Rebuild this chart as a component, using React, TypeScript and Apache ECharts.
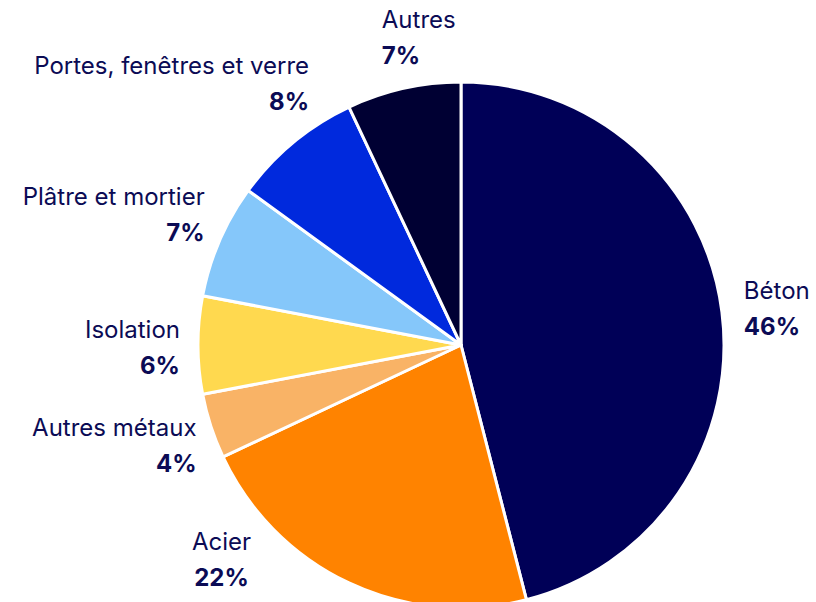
import React, { useEffect, useRef } from "react";
import * as echarts from "echarts";

const categories = [
  "Béton",
  "Acier",
  "Autres métaux",
  "Isolation",
  "Plâtre et mortier",
  "Portes, fenêtres et verre",
  "Autres",
];
const values = [46, 22, 4, 6, 7, 8, 7];
const colors = ["#000057", "#FF8300", "#F9B366", "#FFD94F", "#85C7FA", "#0029DD", "#000033"];

// label placement tweaks (alignment and offsets relative to default outside position)
const labelAlign = ["left", "center", "right", "right", "right", "right", "left"];
const labelDx = [4, -117, 3, 0, 2, 29, -14];
const labelDy = [-2, -35, 15, 2, -21, -49, -38];

const FONT = "Inter";

export default function App() {
  const ref = useRef<HTMLDivElement>(null);
  useEffect(() => {
    if (!ref.current) return;
    const chart = echarts.init(ref.current, null, { renderer: "svg" });
    chart.setOption({
      animation: false,
      backgroundColor: "#ffffff",
      series: [
        {
          type: "pie",
          center: [461, 345],
          radius: 263,
          startAngle: 90,
          clockwise: true,
          avoidLabelOverlap: false,
          data: categories.map((c, i) => ({
            name: c,
            value: values[i],
            itemStyle: { color: colors[i] },
          })),
          itemStyle: { borderColor: "#ffffff", borderWidth: 3 },
          label: {
            show: true,
            position: "outside",
            formatter: "{n|{b}}\n{p|{c}%}",
            color: "#0b0b55",
            fontFamily: FONT,
            lineHeight: 36,
            rich: {
              n: { fontSize: 24, fontFamily: FONT, color: "#0b0b55", lineHeight: 36 },
              p: { fontSize: 24, fontWeight: "bold", fontFamily: FONT, color: "#0b0b55", lineHeight: 36 },
            },
          },
          labelLine: { show: false, length: 13, length2: 0 },
          labelLayout: (params: any) => {
            const i = params.dataIndex;
            return { align: labelAlign[i], dx: labelDx[i], dy: labelDy[i] };
          },
          emphasis: { disabled: true },
        },
      ],
    });
    return () => chart.dispose();
  }, []);
  return (
    <div
      ref={ref}
      style={{ position: "fixed", left: 0, top: 0, width: 816, height: 602 }}
    />
  );
}
